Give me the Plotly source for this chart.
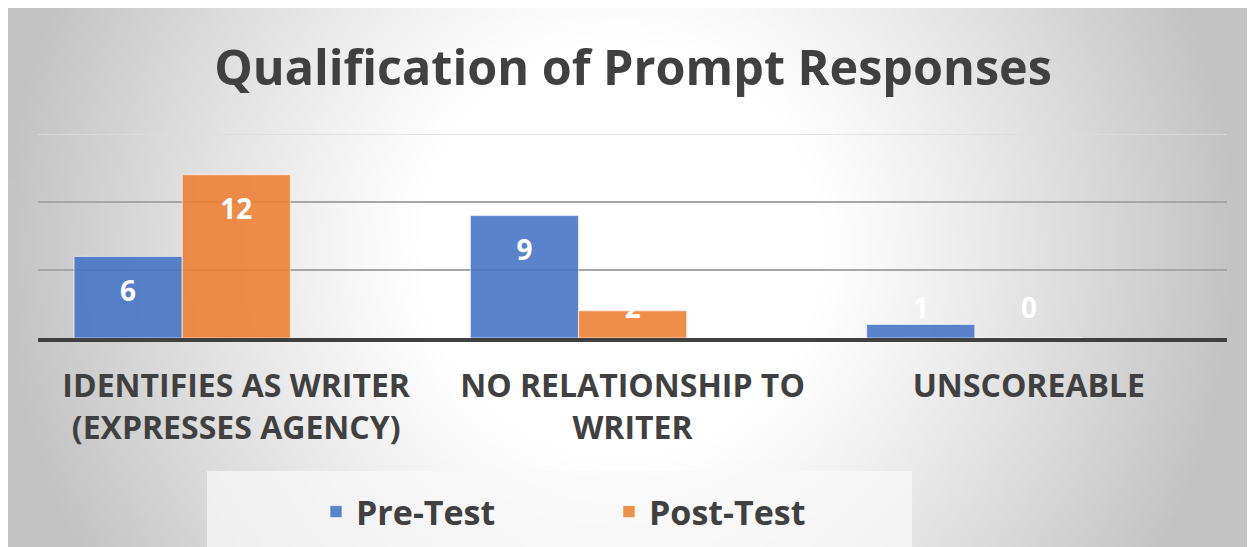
import base64, struct, zlib
import numpy as np
import plotly.graph_objects as go

# ---------------- data ----------------
categories = ["IDENTIFIES AS WRITER<br>(EXPRESSES AGENCY)", "NO RELATIONSHIP TO<br>WRITER", "UNSCOREABLE"]
pre_test = [6, 9, 1]
post_test = [12, 2, 0]
series_names = ["Pre-Test", "Post-Test"]
title_text = "Qualification of Prompt Responses"

# figure size (the page adds an 8px body margin)
W, H = 1240, 539
OFF = 8
FONT = "Open Sans"
TXT = "#404040"


def fx(px):
    return (px - OFF) / W


def fy(py):
    return 1 - (py - OFF) / H


# ---------------- background gradient (style only) ----------------
def gradient_png(w, h):
    xs = (np.arange(w) + 0.5) / w * W + OFF
    ys = (np.arange(h) + 0.5) / h * H + OFF
    X, Y = np.meshgrid(xs, ys)
    dx = (X - 620) / 620
    dy = (Y - 250) / 640
    d = np.sqrt(dx ** 2 + dy ** 2)
    t = np.clip((d - 0.33) / 0.67, 0, 1) ** 1.1
    c = (255 - 60 * t).astype(np.uint8)
    arr = np.stack([c, c, c], axis=-1)
    raw = b"".join(b"\x00" + arr[i].tobytes() for i in range(h))

    def chunk(tag, data):
        return struct.pack(">I", len(data)) + tag + data + struct.pack(">I", zlib.crc32(tag + data) & 0xFFFFFFFF)

    png = b"\x89PNG\r\n\x1a\n" + chunk(b"IHDR", struct.pack(">IIBBBBB", w, h, 8, 2, 0, 0, 0)) \
        + chunk(b"IDAT", zlib.compress(raw, 9)) + chunk(b"IEND", b"")
    return "data:image/png;base64," + base64.b64encode(png).decode()


# ---------------- geometry (styling) ----------------
bar_w = 0.2727
offsets = [-0.409, -0.136]
colors = ["rgba(68,114,196,0.88)", "rgba(237,125,49,0.88)"]
idx = list(range(len(categories)))

fig = go.Figure()
for name, vals, off, col in zip(series_names, [pre_test, post_test], offsets, colors):
    fig.add_trace(go.Bar(
        x=idx, y=vals, name=name, width=bar_w, offset=off,
        marker=dict(color=col, line=dict(color="rgba(255,255,255,0.6)", width=1)),
        hoverinfo="y+name",
    ))
for vals, off in zip([pre_test, post_test], offsets):
    fig.add_trace(go.Scatter(
        x=[i + off + bar_w / 2 for i in idx],
        y=[max(v - 2.75, 2.0) for v in vals],
        mode="text", text=[str(v) for v in vals],
        textfont=dict(family=FONT, size=28, color="white", weight="bold"),
        showlegend=False, hoverinfo="skip",
    ))

fig.update_layout(
    width=W, height=H,
    margin=dict(l=0, r=0, t=0, b=0),
    paper_bgcolor="white", plot_bgcolor="rgba(0,0,0,0)",
    barmode="overlay",
    title=dict(text=title_text, x=fx(633), xanchor="center", y=fy(68), yanchor="middle",
               font=dict(family=FONT, size=48.5, color=TXT, weight="bold")),
    xaxis=dict(domain=[fx(38), fx(1227)], range=[-0.5, 2.5], tickvals=idx, ticktext=categories,
               showgrid=False, zeroline=False, showline=True, linecolor="#404040", linewidth=4,
               ticks="outside", ticklen=17, tickcolor="rgba(0,0,0,0)",
               tickfont=dict(family=FONT, size=32, color=TXT, weight="bold")),
    yaxis=dict(domain=[fy(338), fy(134)], range=[0, 15], tickvals=[5, 10],
               showticklabels=False, showgrid=True, gridcolor="#a6a6a6", gridwidth=1.5,
               zeroline=False, showline=False),
    legend=dict(orientation="h", x=fx(316), xanchor="left", y=fy(512), yanchor="middle",
                bgcolor="rgba(0,0,0,0)", entrywidth=248, entrywidthmode="pixels",
                font=dict(family=FONT, size=34, color=TXT, weight="bold")),
    images=[dict(source=gradient_png(248, 108), xref="paper", yref="paper",
                 x=0, y=1, sizex=1, sizey=1,
                 xanchor="left", yanchor="top", sizing="stretch", layer="below")],
    shapes=[
        dict(type="rect", xref="paper", yref="paper", x0=fx(207), x1=fx(912), y0=0, y1=fy(471),
             fillcolor="rgba(250,250,250,0.7)", line=dict(width=0), layer="below"),
        dict(type="line", xref="x", yref="y", x0=-0.5, x1=2.5, y0=15, y1=15,
             line=dict(color="#dcdcdc", width=1.5), layer="below"),
    ],
)

fig.write_html("out.html")
